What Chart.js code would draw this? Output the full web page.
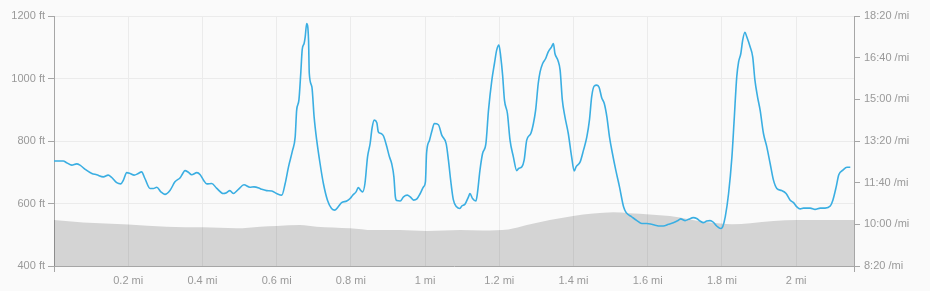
<!DOCTYPE html>
<html>
<head>
<meta charset="utf-8">
<script src="https://cdn.jsdelivr.net/npm/chart.js@4.4.0/dist/chart.umd.min.js"></script>
<style>
    html, body { margin: 0; padding: 0; background: #fafafa; }
    #wrap { width: 930px; height: 291px; position: relative; }
</style>
</head>
<body>
<div id="wrap"><canvas id="runChart"></canvas></div>
<script>
// pace along the run (distance in mi, pace in seconds per mile)
const paceMiles = [0.000, 0.025, 0.034, 0.048, 0.061, 0.070, 0.084, 0.102, 0.115, 0.133, 0.146, 0.155, 0.169, 0.180, 0.187, 0.196, 0.205, 0.216, 0.227, 0.236, 0.245, 0.259, 0.268, 0.277, 0.288, 0.299, 0.313, 0.326, 0.340, 0.347, 0.353, 0.362, 0.371, 0.385, 0.394, 0.403, 0.412, 0.425, 0.438, 0.456, 0.465, 0.474, 0.483, 0.497, 0.512, 0.528, 0.539, 0.555, 0.560, 0.573, 0.587, 0.600, 0.614, 0.623, 0.632, 0.643, 0.650, 0.654, 0.660, 0.665, 0.669, 0.674, 0.677, 0.681, 0.686, 0.688, 0.695, 0.701, 0.708, 0.717, 0.726, 0.737, 0.748, 0.757, 0.766, 0.775, 0.789, 0.798, 0.805, 0.814, 0.820, 0.827, 0.832, 0.838, 0.845, 0.852, 0.857, 0.863, 0.870, 0.874, 0.881, 0.888, 0.897, 0.904, 0.910, 0.916, 0.920, 0.924, 0.933, 0.942, 0.952, 0.960, 0.969, 0.978, 0.987, 0.996, 1.001, 1.004, 1.012, 1.019, 1.025, 1.036, 1.045, 1.057, 1.063, 1.069, 1.076, 1.085, 1.094, 1.099, 1.108, 1.117, 1.121, 1.128, 1.137, 1.141, 1.148, 1.155, 1.164, 1.171, 1.180, 1.187, 1.193, 1.199, 1.204, 1.209, 1.214, 1.222, 1.229, 1.238, 1.247, 1.252, 1.261, 1.267, 1.274, 1.285, 1.292, 1.298, 1.305, 1.310, 1.317, 1.325, 1.332, 1.341, 1.346, 1.350, 1.358, 1.364, 1.370, 1.377, 1.386, 1.395, 1.402, 1.407, 1.418, 1.427, 1.436, 1.443, 1.449, 1.456, 1.463, 1.469, 1.476, 1.483, 1.490, 1.497, 1.505, 1.514, 1.524, 1.535, 1.542, 1.557, 1.571, 1.584, 1.598, 1.611, 1.620, 1.633, 1.642, 1.656, 1.669, 1.683, 1.689, 1.701, 1.710, 1.723, 1.732, 1.741, 1.750, 1.759, 1.768, 1.777, 1.786, 1.797, 1.802, 1.809, 1.818, 1.827, 1.833, 1.840, 1.845, 1.851, 1.856, 1.862, 1.867, 1.876, 1.883, 1.889, 1.896, 1.903, 1.912, 1.921, 1.930, 1.939, 1.948, 1.961, 1.973, 1.984, 1.993, 2.002, 2.011, 2.020, 2.038, 2.051, 2.065, 2.078, 2.092, 2.099, 2.108, 2.115, 2.126, 2.137, 2.146];
const paceSecs = [752, 752, 748, 742, 745, 742, 732, 722, 719, 714, 718, 713, 700, 697, 706, 724, 722, 718, 722, 726, 710, 686, 686, 689, 678, 672, 682, 702, 712, 722, 729, 725, 719, 724, 719, 706, 697, 698, 687, 674, 676, 681, 674, 684, 695, 689, 690, 686, 684, 681, 680, 674, 670, 698, 738, 778, 810, 874, 898, 962, 1020, 1034, 1050, 1082, 1042, 962, 930, 858, 802, 746, 698, 658, 638, 634, 642, 652, 656, 662, 670, 678, 688, 681, 678, 698, 762, 794, 830, 850, 844, 822, 818, 812, 786, 762, 746, 714, 666, 657, 656, 666, 670, 666, 658, 661, 674, 690, 702, 770, 802, 826, 842, 839, 814, 793, 754, 706, 660, 642, 638, 644, 649, 666, 674, 662, 656, 674, 730, 770, 794, 874, 946, 986, 1018, 1030, 1002, 958, 898, 866, 802, 762, 729, 734, 738, 754, 802, 818, 842, 874, 938, 966, 986, 998, 1014, 1026, 1034, 1010, 994, 970, 898, 858, 818, 762, 728, 738, 750, 778, 810, 850, 906, 932, 934, 929, 904, 890, 858, 810, 770, 730, 690, 642, 628, 618, 609, 602, 602, 600, 598, 596, 596, 600, 604, 610, 613, 609, 612, 616, 614, 608, 604, 608, 609, 605, 596, 590, 594, 618, 674, 762, 850, 954, 990, 1010, 1042, 1061, 1050, 1026, 1002, 946, 906, 874, 818, 786, 746, 706, 686, 681, 674, 658, 652, 642, 637, 639, 639, 636, 639, 639, 644, 658, 690, 719, 730, 737, 737];

// elevation profile (distance in mi, elevation in ft)
const elevMiles = [0.000, 0.079, 0.201, 0.304, 0.403, 0.492, 0.555, 0.600, 0.663, 0.708, 0.798, 0.861, 0.933, 1.004, 1.094, 1.157, 1.224, 1.274, 1.336, 1.399, 1.453, 1.507, 1.552, 1.606, 1.660, 1.714, 1.768, 1.827, 1.876, 1.939, 2.002, 2.156];
const elevFeet = [547, 539, 533, 526, 524, 521, 526, 528, 531, 526, 521, 515, 515, 512, 515, 514, 517, 531, 547, 560, 568, 572, 569, 565, 560, 549, 539, 534, 537, 544, 547, 547];

// axis ranges
const totalMiles = 2.156;
const feetTicks = [400, 600, 800, 1000, 1200];
const paceTicks = [500, 600, 700, 800, 900, 1000, 1100];

document.addEventListener("DOMContentLoaded", function () {
    createChart();
});

function formatPace(secs) {
    const m = Math.floor(secs / 60);
    const s = Math.round(secs % 60);
    return `${m}:${s < 10 ? '0' + s : s} /mi`;
}

function createChart() {
    const ctx = document.getElementById('runChart').getContext('2d');
    const axisColor = '#a6a6a6';
    const gridColor = '#ebebeb';
    const labelColor = '#999';
    const font = { family: '"Liberation Sans", Arial, sans-serif', size: 11 };

    new Chart(ctx, {
        type: 'line',
        data: {
            datasets: [{
                label: 'Pace',
                yAxisID: 'pace',
                data: paceMiles.map((x, i) => ({ x: x, y: paceSecs[i] })),
                borderColor: '#3aaee2',
                borderWidth: 1.6,
                pointRadius: 0,
                fill: false,
                cubicInterpolationMode: 'monotone'
            }, {
                label: 'Elevation',
                yAxisID: 'elev',
                data: elevMiles.map((x, i) => ({ x: x, y: elevFeet[i] })),
                borderWidth: 0,
                borderColor: 'rgba(0, 0, 0, 0)',
                backgroundColor: 'rgba(0, 0, 0, 0.15)',
                pointRadius: 0,
                fill: 'start',
                cubicInterpolationMode: 'monotone'
            }]
        },
        options: {
            responsive: true,
            maintainAspectRatio: false,
            animation: false,
            layout: {
                padding: { top: 16, left: 0, right: 0, bottom: 0 }
            },
            plugins: {
                legend: { display: false },
                tooltip: { enabled: false }
            },
            scales: {
                x: {
                    type: 'linear',
                    min: 0,
                    max: totalMiles,
                    afterFit: (scale) => { scale.height = 25; },
                    afterBuildTicks: (scale) => {
                        const ticks = [];
                        for (let i = 0; i <= 10; i++) ticks.push({ value: i / 5 });
                        ticks.push({ value: totalMiles });
                        scale.ticks = ticks;
                    },
                    border: { color: axisColor },
                    grid: {
                        color: gridColor,
                        tickLength: 6,
                        tickColor: (c) => (c.tick && (c.tick.value === 0 || c.tick.value === totalMiles)) ? axisColor : 'rgba(0,0,0,0)'
                    },
                    ticks: {
                        color: labelColor,
                        font: font,
                        padding: 2,
                        maxRotation: 0,
                        autoSkip: false,
                        callback: function (value) {
                            if (value === 0 || value === totalMiles) return '';
                            return `${parseFloat(value.toFixed(1))} mi`;
                        }
                    }
                },
                elev: {
                    type: 'linear',
                    position: 'left',
                    min: 400,
                    max: 1200,
                    afterFit: (scale) => { scale.width = 54; },
                    afterBuildTicks: (scale) => { scale.ticks = feetTicks.map(v => ({ value: v })); },
                    border: { color: axisColor },
                    grid: {
                        color: gridColor,
                        tickLength: 6,
                        tickColor: axisColor
                    },
                    ticks: {
                        color: labelColor,
                        font: font,
                        padding: 3,
                        callback: (value) => `${value} ft`
                    }
                },
                pace: {
                    type: 'linear',
                    position: 'right',
                    min: 500,
                    max: 1100,
                    afterFit: (scale) => { scale.width = 76; },
                    afterBuildTicks: (scale) => { scale.ticks = paceTicks.map(v => ({ value: v })); },
                    border: { color: axisColor },
                    grid: {
                        drawOnChartArea: false,
                        tickLength: 6,
                        tickColor: axisColor
                    },
                    ticks: {
                        color: labelColor,
                        font: font,
                        padding: 4,
                        callback: (value) => formatPace(value)
                    }
                }
            }
        }
    });
}
</script>
</body>
</html>
